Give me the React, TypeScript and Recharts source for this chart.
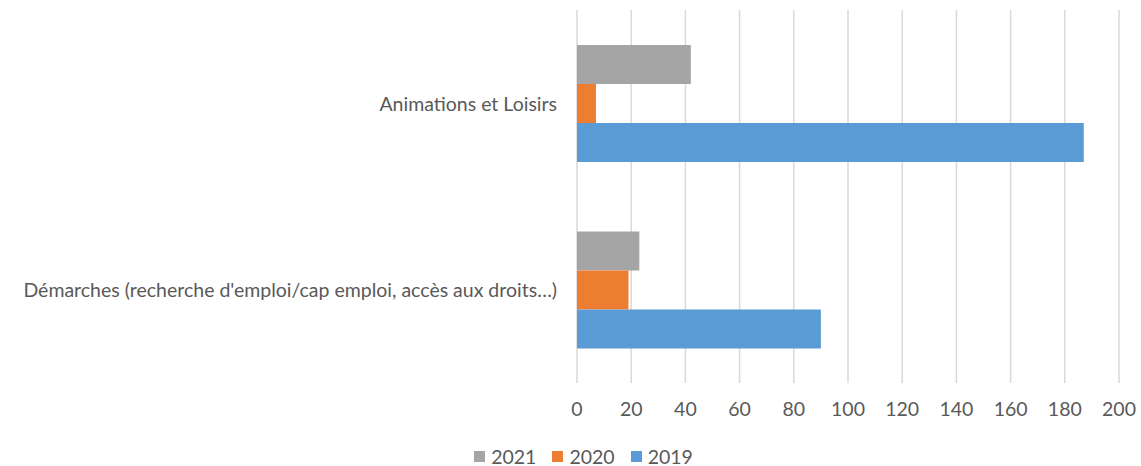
import { Bar, BarChart, CartesianGrid, Legend, XAxis, YAxis } from "recharts";

const categories = [
	"Animations et Loisirs",
	"Démarches (recherche d'emploi/cap emploi, accès aux droits…)",
];
const values2021 = [42, 23];
const values2020 = [7, 19];
const values2019 = [187, 90];
const xTicks = [0, 20, 40, 60, 80, 100, 120, 140, 160, 180, 200];

const seriesList = [
	{ key: "2021", color: "#A5A5A5" },
	{ key: "2020", color: "#ED7D31" },
	{ key: "2019", color: "#5B9BD5" },
];

const data = categories.map((name, i) => ({
	name,
	"2021": values2021[i],
	"2020": values2020[i],
	"2019": values2019[i],
}));

const FONT = "Lato, 'Open Sans', sans-serif";
const TEXT = "#595959";
const FS = 19.5;

function CategoryTick(props: any) {
	const { x, y, payload } = props;
	return (
		<text
			x={x - 12}
			y={y}
			textAnchor="end"
			dominantBaseline="central"
			fill={TEXT}
			fontSize={FS}
			fontFamily={FONT}
		>
			{payload.value}
		</text>
	);
}

function LegendContent() {
	return (
		<div
			style={{
				display: "flex",
				justifyContent: "center",
				alignItems: "center",
				height: 20,
				paddingTop: 20,
				paddingLeft: 48,
				fontFamily: FONT,
				fontSize: FS,
				color: TEXT,
			}}
		>
			{seriesList.map((s) => (
				<div
					key={s.key}
					style={{ display: "flex", alignItems: "center", margin: "0 8px" }}
				>
					<span
						style={{
							width: 11,
							height: 11,
							background: s.color,
							display: "inline-block",
							marginRight: 6,
						}}
					/>
					<span>{s.key}</span>
				</div>
			))}
		</div>
	);
}

export default function App() {
	return (
		<div style={{ position: "absolute", left: 0, top: 0, background: "#fff" }}>
			<BarChart
				width={1141}
				height={466}
				data={data}
				layout="vertical"
				margin={{ top: 10, right: 22, bottom: 0, left: 0 }}
				barCategoryGap={35}
				barGap={0}
			>
				<CartesianGrid horizontal={false} stroke="#D9D9D9" strokeWidth={1.5} />
				<XAxis
					type="number"
					domain={[0, 200]}
					ticks={xTicks}
					axisLine={false}
					tickLine={false}
					tickMargin={13}
					height={43}
					tick={{ fill: TEXT, fontSize: FS, fontFamily: FONT }}
				/>
				<YAxis
					type="category"
					dataKey="name"
					width={577}
					axisLine={false}
					tickLine={false}
					tick={<CategoryTick />}
				/>
				<Legend
					verticalAlign="bottom"
					height={40}
					content={<LegendContent />}
				/>
				{seriesList.map((s) => (
					<Bar
						key={s.key}
						dataKey={s.key}
						fill={s.color}
						isAnimationActive={false}
					/>
				))}
			</BarChart>
		</div>
	);
}
